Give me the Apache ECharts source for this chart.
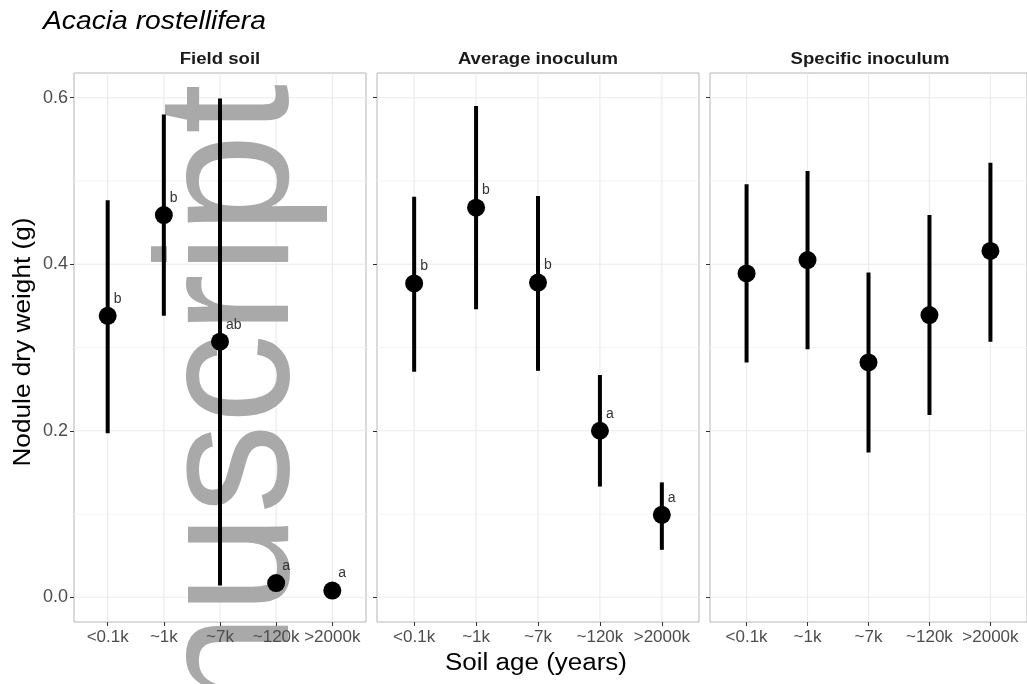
<!DOCTYPE html>
<html>
<head>
<meta charset="utf-8">
<script src="https://cdn.jsdelivr.net/npm/echarts@6/dist/echarts.min.js"></script>
<style>html,body{margin:0;padding:0;background:#fff}#c{width:1027px;height:684px}</style>
</head>
<body>
<div id="c"></div>
<script>
const ageCats = ['<0.1k', '~1k', '~7k', '~120k', '>2000k'];
const panelNames = ['Field soil', 'Average inoculum', 'Specific inoculum'];
const fieldMean = [0.338, 0.459, 0.307, 0.017, 0.008];
const fieldLow  = [0.197, 0.338, 0.014, 0.013, 0.005];
const fieldHigh = [0.477, 0.580, 0.599, 0.021, 0.011];
const fieldLetters = ['b', 'b', 'ab', 'a', 'a'];
const avgMean = [0.377, 0.468, 0.378, 0.200, 0.099];
const avgLow  = [0.271, 0.346, 0.272, 0.133, 0.057];
const avgHigh = [0.481, 0.590, 0.482, 0.267, 0.138];
const avgLetters = ['b', 'b', 'b', 'a', 'a'];
const specMean = [0.389, 0.405, 0.282, 0.339, 0.416];
const specLow  = [0.282, 0.298, 0.174, 0.219, 0.307];
const specHigh = [0.496, 0.512, 0.390, 0.459, 0.522];
const specLetters = ['', '', '', '', ''];
const yTicks = [0, 0.2, 0.4, 0.6];
const yMinor = [0.1, 0.3, 0.5];
const titleText = 'Acacia rostellifera';
const xTitle = 'Soil age (years)';
const yTitle = 'Nodule dry weight (g)';
const watermark = 'nuscript';

const FONT = "'Liberation Sans', Arial, Helvetica, sans-serif";
const panels = [
  {mean: fieldMean, low: fieldLow, high: fieldHigh, letters: fieldLetters},
  {mean: avgMean, low: avgLow, high: avgHigh, letters: avgLetters},
  {mean: specMean, low: specLow, high: specHigh, letters: specLetters}
];
const gridPos = [
  {left: 74, top: 73, width: 292, height: 549},
  {left: 377, top: 73, width: 322, height: 549},
  {left: 710, top: 73, width: 320, height: 549}
];
const catIdx = ageCats.map((_, i) => i);

const grid = gridPos.map(g => Object.assign({show: true, borderColor: '#b5b5b5', borderWidth: 1, backgroundColor: '#fff', containLabel: false}, g));
const xAxis = gridPos.map((g, i) => ({
  type: 'value', gridIndex: i, min: -0.6, max: 4.6, position: 'bottom', z: 6,
  axisLine: {show: false, onZero: false},
  splitLine: {show: false},
  axisTick: {show: true, customValues: catIdx, length: 4, inside: false, lineStyle: {color: '#333', width: 1}},
  axisLabel: {show: true, customValues: catIdx, formatter: v => ageCats[Math.round(v)], color: '#4d4d4d', fontSize: 17, fontFamily: FONT, margin: 7, showMinLabel: true, showMaxLabel: true, hideOverlap: false}
}));
const yAxis = gridPos.map((g, i) => ({
  type: 'value', gridIndex: i, min: -0.0297, max: 0.6297, position: 'left', z: 6,
  axisLine: {show: false, onZero: false},
  splitLine: {show: false},
  axisTick: {show: true, customValues: yTicks, length: 4, lineStyle: {color: '#333', width: 1}},
  axisLabel: {show: i === 0, customValues: yTicks, formatter: v => v.toFixed(1), color: '#4d4d4d', fontSize: 18, fontFamily: FONT, margin: 6}
}));

const gridLineData = [
  ...yTicks.map(v => [v, 1, 0]),
  ...yMinor.map(v => [v, 0, 0]),
  ...catIdx.map(v => [v, 1, 1])
];

const series = [];
panels.forEach((p, i) => {
  series.push({
    type: 'custom', xAxisIndex: i, yAxisIndex: i, z: 0, silent: true,
    data: gridLineData,
    renderItem: (params, api) => {
      const cs = params.coordSys;
      const v = api.value(0), major = api.value(1), vert = api.value(2);
      const stroke = major ? '#ebebeb' : '#f4f4f4';
      if (vert) {
        const x = api.coord([v, 0])[0];
        return {type: 'line', shape: {x1: x, y1: cs.y, x2: x, y2: cs.y + cs.height}, style: {stroke, lineWidth: 1.2}};
      }
      const y = api.coord([0, v])[1];
      return {type: 'line', shape: {x1: cs.x, y1: y, x2: cs.x + cs.width, y2: y}, style: {stroke, lineWidth: major ? 1.2 : 1}};
    }
  });
  series.push({
    type: 'custom', xAxisIndex: i, yAxisIndex: i, z: 3, silent: true,
    data: p.mean.map((m, k) => [k, p.low[k], p.high[k]]),
    encode: {x: 0, y: [1, 2]},
    renderItem: (params, api) => {
      const x = api.value(0);
      const lo = api.coord([x, api.value(1)]);
      const hi = api.coord([x, api.value(2)]);
      return {type: 'line', shape: {x1: lo[0], y1: lo[1], x2: hi[0], y2: hi[1]}, style: {stroke: '#000', lineWidth: 4}};
    }
  });
  series.push({
    type: 'scatter', xAxisIndex: i, yAxisIndex: i, z: 4, silent: true,
    symbol: 'circle', symbolSize: 18,
    itemStyle: {color: '#000', opacity: 1},
    data: p.mean.map((m, k) => ({value: [k, m], label: {formatter: p.letters[k]}})),
    label: {show: true, position: [15, -8], align: 'left', verticalAlign: 'middle', color: '#333', fontSize: 14, fontFamily: FONT}
  });
});

const graphic = [
  {type: 'text', x: 43, y: 22, scaleX: 1.13, z: 10, style: {text: titleText, font: `italic 25px ${FONT}`, fill: '#000', align: 'left', verticalAlign: 'middle'}},
  ...panelNames.map((n, i) => ({type: 'text', x: gridPos[i].left + gridPos[i].width / 2, y: 60, scaleX: 1.16, z: 10, style: {text: n, font: `bold 16px ${FONT}`, fill: '#1a1a1a', align: 'center', verticalAlign: 'middle'}})),
  {type: 'text', x: 536, y: 664, scaleX: 1.13, z: 10, style: {text: xTitle, font: `23px ${FONT}`, fill: '#000', align: 'center', verticalAlign: 'middle'}},
  {type: 'text', x: 24, y: 342, rotation: Math.PI / 2, scaleX: 1.14, z: 10, style: {text: yTitle, font: `23px ${FONT}`, fill: '#000', align: 'center', verticalAlign: 'middle'}},
  {type: 'text', x: 236, y: 84, rotation: Math.PI / 2, scaleY: 1.05, z: 1, silent: true, style: {text: watermark, font: `180px ${FONT}`, fill: '#a9a9a9', align: 'right', verticalAlign: 'middle'}}
];

const chart = echarts.init(document.getElementById('c'), null, {renderer: 'canvas'});
chart.setOption({animation: false, backgroundColor: '#fff', grid, xAxis, yAxis, series, graphic});
</script>
</body>
</html>
